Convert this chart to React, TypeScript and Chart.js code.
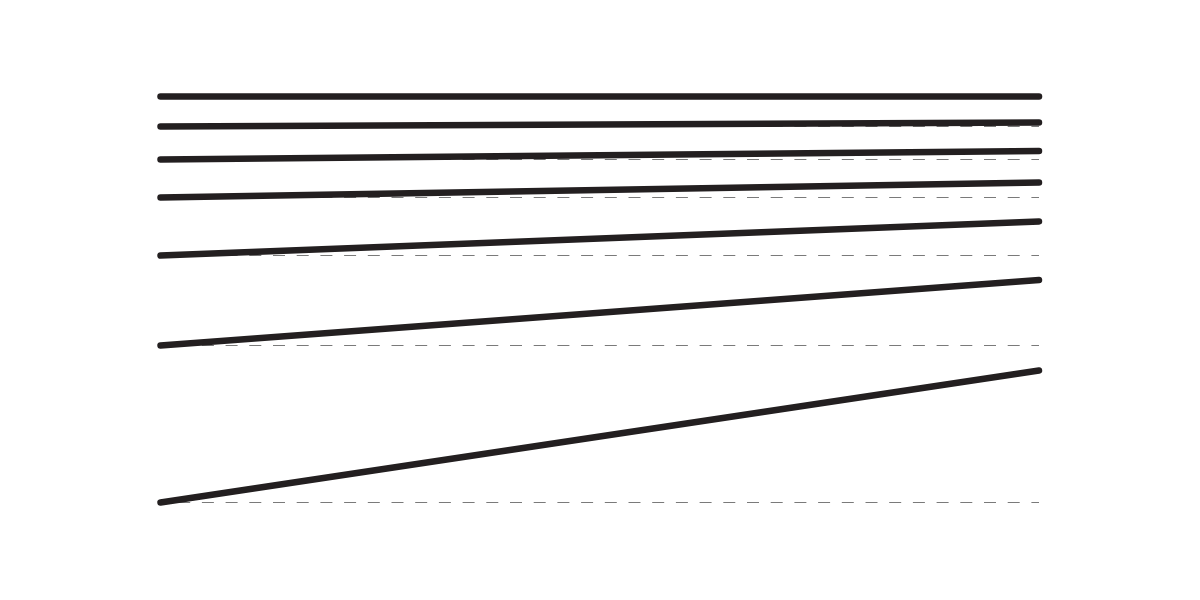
import React, { useEffect, useRef } from 'react';
import Chart from 'chart.js/auto';

// two ends of every line: left (start) and right (end), measured upward from the bottom baseline
const endLabels = ['start', 'end'];
const startValues = [406, 376, 343, 305, 247, 157, 0];
const endValues = [406, 380, 351.5, 320, 281, 222.5, 132];

const INK = '#231f20';
const GUIDE = '#7a7a7a';

export default function App() {
    const chartRef = useRef<HTMLCanvasElement | null>(null);

    useEffect(() => {
        let chartInstance: Chart | null = null;
        if (chartRef.current) {
            const ctx = chartRef.current.getContext('2d');
            if (ctx) {
                // dashed guides at each starting level, drawn underneath
                const guides = startValues.map((v, i) => ({
                    label: `guide ${i + 1}`,
                    data: [v, v],
                    borderColor: GUIDE,
                    borderWidth: 1,
                    borderDash: [12, 11.7],
                    borderDashOffset: 6,
                    pointRadius: 0,
                    clip: false as const,
                    order: 2
                }));
                const lines = startValues.map((v, i) => ({
                    label: `line ${i + 1}`,
                    data: [v, endValues[i]],
                    borderColor: INK,
                    borderWidth: 6.5,
                    borderCapStyle: 'round' as const,
                    pointRadius: 0,
                    clip: false as const,
                    order: 1
                }));
                chartInstance = new Chart(ctx, {
                    type: 'line',
                    data: { labels: endLabels, datasets: [...guides, ...lines] },
                    options: {
                        responsive: true,
                        maintainAspectRatio: false,
                        animation: false,
                        layout: { padding: { left: 160.5, right: 161, top: 96.5, bottom: 97.5 } },
                        scales: {
                            x: { display: false, offset: false },
                            y: { display: false, min: 0, max: 406 }
                        },
                        plugins: { legend: { display: false }, tooltip: { enabled: false } }
                    }
                });
            }
        }
        return () => {
            if (chartInstance) chartInstance.destroy();
        };
    }, []);

    return (
        <div style={{ position: 'absolute', left: 0, top: 0, width: 1200, height: 600, background: '#fff' }}>
            <canvas ref={chartRef}></canvas>
        </div>
    );
}
